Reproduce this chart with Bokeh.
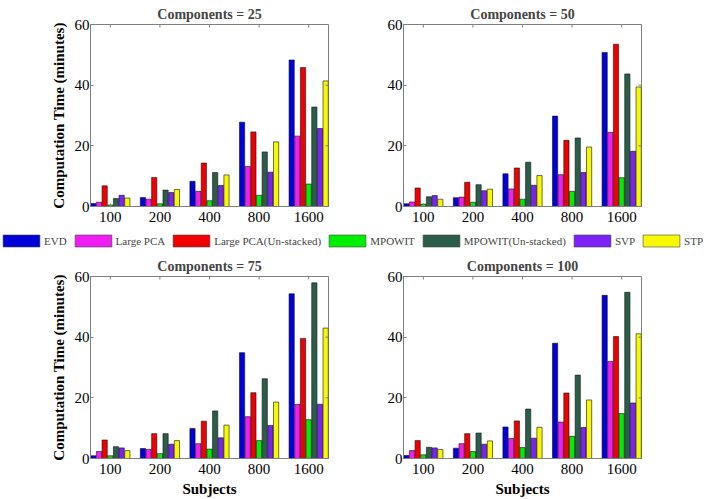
from bokeh.plotting import figure
from bokeh.models import Range1d, FixedTicker, Legend, LegendItem, ColumnDataSource
from bokeh.transform import dodge
from bokeh.layouts import column, row
from bokeh.embed import file_html
from bokeh.resources import INLINE

subjects = ["100", "200", "400", "800", "1600"]
subject_pos = [1, 2, 3, 4, 5]
methods = ["EVD", "Large PCA", "Large PCA(Un-stacked)", "MPOWIT",
           "MPOWIT(Un-stacked)", "SVP", "STP"]
colors = ["#0000D8", "#F01EF0", "#F00000", "#00EE00", "#2B5E48", "#7B22F5", "#F8F800"]
titles = ["Components = 25", "Components = 50", "Components = 75", "Components = 100"]
y_ticks = [0, 20, 40, 60]

# Components = 25
evd_25 = [1.0, 3.0, 8.3, 27.8, 48.3]
lpca_25 = [1.4, 2.4, 5.0, 13.2, 23.2]
lpca_un_25 = [6.8, 9.6, 14.3, 24.6, 45.8]
mpowit_25 = [0.5, 0.9, 1.9, 3.7, 7.4]
mpowit_un_25 = [2.6, 5.4, 11.2, 18.0, 32.8]
svp_25 = [3.7, 4.6, 6.9, 11.3, 25.7]
stp_25 = [2.8, 5.6, 10.4, 21.3, 41.4]

# Components = 50
evd_50 = [0.9, 2.9, 10.8, 29.8, 50.8]
lpca_50 = [1.5, 3.1, 5.8, 10.5, 24.4]
lpca_un_50 = [6.1, 8.0, 12.7, 21.8, 53.5]
mpowit_50 = [0.8, 1.4, 2.4, 5.0, 9.5]
mpowit_un_50 = [3.2, 7.2, 14.6, 22.6, 43.7]
svp_50 = [3.6, 5.2, 7.0, 11.2, 18.2]
stp_50 = [2.4, 5.7, 10.2, 19.6, 39.4]

# Components = 75
evd_75 = [0.9, 3.3, 9.9, 34.9, 54.3]
lpca_75 = [2.3, 3.0, 4.9, 13.8, 17.8]
lpca_un_75 = [6.1, 8.2, 12.3, 21.7, 39.6]
mpowit_75 = [0.9, 1.6, 3.1, 5.9, 12.8]
mpowit_un_75 = [3.9, 8.2, 15.7, 26.3, 57.9]
svp_75 = [3.5, 4.7, 6.8, 10.9, 17.9]
stp_75 = [2.6, 5.9, 11.0, 18.6, 43.0]

# Components = 100
evd_100 = [1.0, 3.4, 10.4, 38.0, 53.8]
lpca_100 = [2.6, 4.9, 6.6, 12.0, 32.0]
lpca_un_100 = [5.9, 8.2, 12.4, 21.6, 40.2]
mpowit_100 = [1.2, 2.3, 3.6, 7.3, 14.8]
mpowit_un_100 = [3.7, 8.4, 16.3, 27.5, 54.8]
svp_100 = [3.5, 4.7, 6.7, 10.2, 18.3]
stp_100 = [3.0, 5.8, 10.3, 19.3, 41.1]

panels = [
    [evd_25, lpca_25, lpca_un_25, mpowit_25, mpowit_un_25, svp_25, stp_25],
    [evd_50, lpca_50, lpca_un_50, mpowit_50, mpowit_un_50, svp_50, stp_50],
    [evd_75, lpca_75, lpca_un_75, mpowit_75, mpowit_un_75, svp_75, stp_75],
    [evd_100, lpca_100, lpca_un_100, mpowit_100, mpowit_un_100, svp_100, stp_100],
]

FONT = "Liberation Serif"
GRAY = "#7f7f7f"
FW, FH = 238, 182
SLOT = 0.8 / 7
X0, X1 = 0.6, 5.4
Y0, Y1 = 0, 60


def make_panel(title, series, ylabel, xlabel, bl, br, bt, bb):
    data = {"x": subject_pos}
    for i, s in enumerate(series):
        data[f"s{i}"] = s
    src = ColumnDataSource(data)
    p = figure(frame_width=FW, frame_height=FH, x_range=Range1d(X0, X1),
               y_range=Range1d(Y0, Y1), output_backend="svg", toolbar_location=None,
               min_border_left=bl, min_border_right=br, min_border_top=bt,
               min_border_bottom=bb)
    for i in range(7):
        p.vbar(x=dodge("x", (i - 3) * SLOT), top=f"s{i}", width=SLOT * 0.92,
               fill_color=colors[i], line_color="#111111", line_width=0.6, source=src)
    p.grid.visible = False
    p.outline_line_color = GRAY
    p.background_fill_color = "white"
    p.border_fill_color = "white"

    # inner ticks on the top and right edges of the box
    tick_y = 3 * (Y1 - Y0) / FH
    tick_x = 3 * (X1 - X0) / FW
    p.segment(x0=subject_pos, y0=[Y1] * len(subject_pos), x1=subject_pos,
              y1=[Y1 - tick_y] * len(subject_pos), line_color=GRAY, line_width=1)
    p.segment(x0=[X1] * len(y_ticks), y0=y_ticks, x1=[X1 - tick_x] * len(y_ticks),
              y1=y_ticks, line_color=GRAY, line_width=1)

    p.xaxis.ticker = FixedTicker(ticks=subject_pos)
    p.xaxis.major_label_overrides = {k: s for k, s in zip(subject_pos, subjects)}
    p.yaxis.ticker = FixedTicker(ticks=y_ticks)
    for ax in (p.xaxis[0], p.yaxis[0]):
        ax.major_tick_in = 3
        ax.major_tick_out = 0
        ax.minor_tick_line_color = None
        ax.axis_line_color = GRAY
        ax.major_tick_line_color = GRAY
        ax.major_label_text_font = FONT
        ax.major_label_text_font_size = "15px"
        ax.major_label_text_color = "black"
        ax.axis_label_text_font = FONT
        ax.axis_label_text_font_style = "bold"
        ax.axis_label_text_font_size = "15px"
        ax.axis_label_text_color = "black"
    p.xaxis.major_label_standoff = 5
    p.yaxis.major_label_standoff = 1
    if ylabel:
        p.yaxis.axis_label = ylabel
        p.yaxis.axis_label_standoff = 5
    if xlabel:
        p.xaxis.axis_label = xlabel
        p.xaxis.axis_label_standoff = 4

    p.title.text = title
    p.title.text_font = FONT
    p.title.text_font_style = "bold"
    p.title.text_font_size = "14px"
    p.title.align = "center"
    p.title.standoff = 6
    p.title.offset = 0
    return p


YL = "Computation Time (minutes)"
p1 = make_panel(titles[0], panels[0], YL, None, 90, 42, 24, 20)
p2 = make_panel(titles[1], panels[1], None, None, 33, 20, 24, 20)
p3 = make_panel(titles[2], panels[2], YL, "Subjects", 90, 42, 24, 39)
p4 = make_panel(titles[3], panels[3], None, "Subjects", 33, 20, 24, 39)

lp = figure(width=708, height=26, x_range=Range1d(0, 1), y_range=Range1d(0, 1),
            output_backend="svg", toolbar_location=None,
            x_axis_location=None, y_axis_location=None,
            min_border_left=0, min_border_right=0, min_border_top=0, min_border_bottom=0)
lp.outline_line_color = None
lp.grid.visible = False
items = []
for m, c in zip(methods, colors):
    # glyphs sit outside the visible range: only their legend swatches are seen
    r = lp.vbar(x=[5], top=[5], bottom=[4], width=0.1, fill_color=c,
                line_color="#444444", line_width=0.6)
    items.append(LegendItem(label=m, renderers=[r]))
legend = Legend(items=items, orientation="horizontal", location=(-2, 4),
                glyph_width=46, glyph_height=15, label_standoff=0, spacing=3,
                padding=0, margin=0, border_line_color=None, background_fill_alpha=0,
                label_text_font=FONT, label_text_font_size="11px", label_height=15)
lp.add_layout(legend, "center")

layout = column(row(p1, p2), lp, row(p3, p4))

open("out.html", "w").write(file_html(layout, INLINE))
